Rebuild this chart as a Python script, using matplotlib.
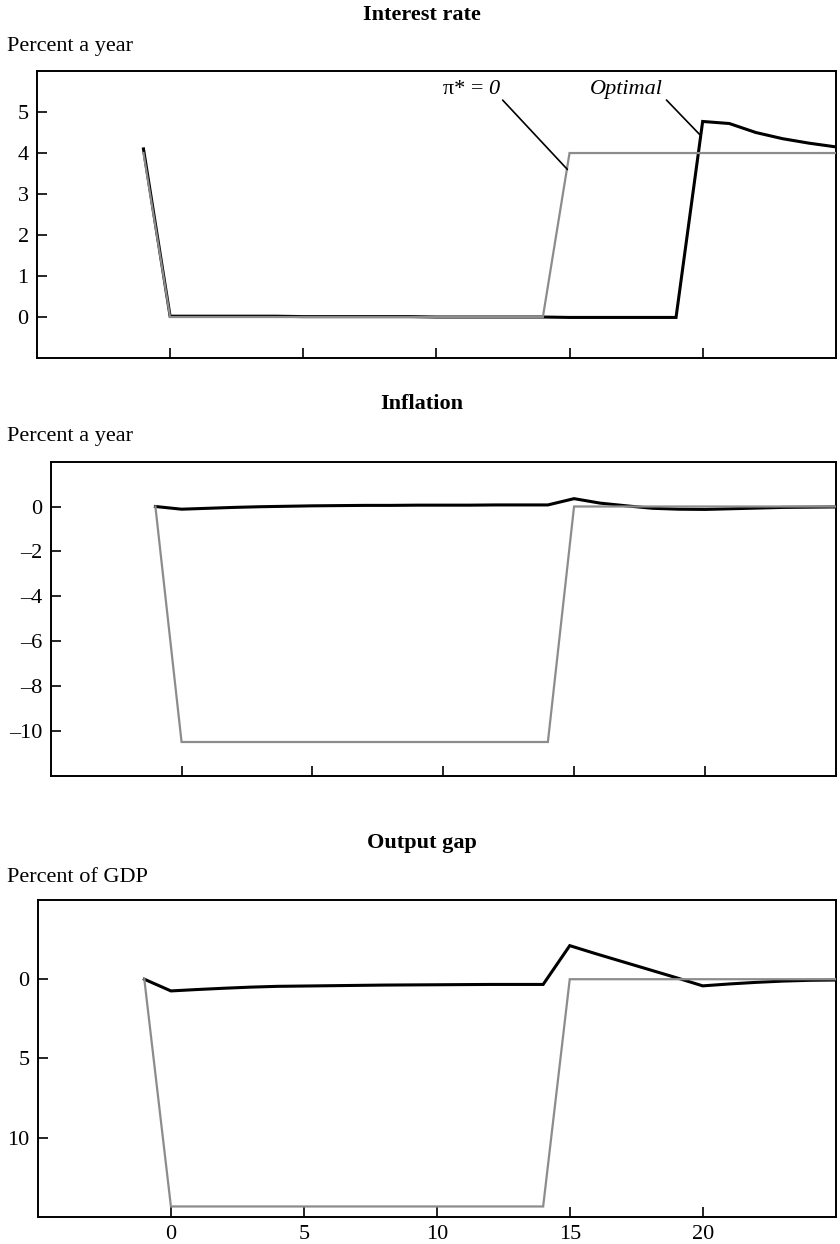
import numpy as np
import matplotlib
matplotlib.use('Agg')
import matplotlib.pyplot as plt

plt.rcParams['font.family'] = ['Liberation Serif', 'DejaVu Serif']

# periods
periods = list(range(-1, 26))

# interest rate, percent a year
rate_zero = [4.0] + [0.0] * 15 + [4.0] * 11
rate_optimal = [4.1] + [0.02] * 5 + [0.01] * 5 + [0.0] * 5 + [-0.01] * 5 + \
    [4.77, 4.72, 4.5, 4.35, 4.24, 4.15]

# inflation, percent a year
infl_zero = [0.0] + [-10.5] * 15 + [0.0] * 11
infl_optimal = [0.0, -0.12, -0.08, -0.04, -0.01, 0.01, 0.03, 0.04, 0.05, 0.05,
                0.06, 0.06, 0.06, 0.07, 0.07, 0.07, 0.35, 0.15, 0.03, -0.08,
                -0.12, -0.13, -0.1, -0.07, -0.04, -0.03, -0.02]

# output gap, percent of GDP
gap_zero = [0.0] + [-14.35] * 15 + [0.0] * 11
gap_optimal = [0.0, -0.74, -0.65, -0.57, -0.5, -0.45, -0.43, -0.41, -0.39, -0.37,
               -0.36, -0.35, -0.34, -0.33, -0.33, -0.33, 2.12, 1.6, 1.1, 0.6,
               0.1, -0.42, -0.3, -0.2, -0.12, -0.07, -0.05]

x_ticks = [0, 5, 10, 15, 20]

fig = plt.figure(figsize=(8.4, 12.44), dpi=100)


def panel(rect, zero, optimal, ylim, yticks, ylabels, title, unit, title_y, unit_y, xlabels=False):
    ax = fig.add_axes(rect)
    ax.plot(periods, optimal, color='black', lw=2.2, solid_joinstyle='miter', zorder=2)
    ax.plot(periods, zero, color='#8c8c8c', lw=1.6, solid_joinstyle='miter', zorder=3)
    ax.set_xlim(-5, 25)
    ax.set_ylim(*ylim)
    ax.set_xticks(x_ticks)
    ax.set_yticks(yticks)
    ax.set_yticklabels(ylabels)
    if not xlabels:
        ax.set_xticklabels([])
    ax.tick_params(direction='in', length=7, width=1.2, labelsize=16, pad=6)
    for s in ax.spines.values():
        s.set_linewidth(1.4)
    fig.text(0.502, title_y, title, ha='center', va='center', fontsize=16, fontweight='bold')
    fig.text(0.008, unit_y, unit, ha='left', va='center', fontsize=16)
    return ax


ax1 = panel([0.044, 0.7122, 0.951, 0.2307], rate_zero, rate_optimal, (-1, 6),
            [0, 1, 2, 3, 4, 5], ['0', '1', '2', '3', '4', '5'],
            'Interest rate', 'Percent a year', 0.988, 0.963)
# pi* = 0 label: upright "pi* =" followed by italic "0"
ax1.annotate('0', xy=(14.92, 3.6), xytext=(12.35, 5.55),
             ha='right', va='center', fontsize=16, style='italic',
             arrowprops=dict(arrowstyle='-', color='black', lw=1.2, shrinkA=1, shrinkB=0,
                             relpos=(1.0, 0.15)))
ax1.annotate('\u03c0* =', xy=(12.35, 5.55), xytext=(-11, 0), textcoords='offset points',
             ha='right', va='center', fontsize=16)
ax1.annotate('Optimal', xy=(19.89, 4.45), xytext=(18.5, 5.55),
             ha='right', va='center', fontsize=16, style='italic',
             arrowprops=dict(arrowstyle='-', color='black', lw=1.2, shrinkA=1, shrinkB=0,
                             relpos=(1.0, 0.15)))

panel([0.0604, 0.3765, 0.9345, 0.2524], infl_zero, infl_optimal, (-12, 2),
      [-10, -8, -6, -4, -2, 0], ['\u201310', '\u20138', '\u20136', '\u20134', '\u20132', '0'],
      'Inflation', 'Percent a year', 0.675, 0.649)

panel([0.0452, 0.0219, 0.9496, 0.2546], gap_zero, gap_optimal, (-15, 5),
      [-10, -5, 0], ['10', '5', '0'],
      'Output gap', 'Percent of GDP', 0.322, 0.295, xlabels=True)

fig.savefig('out.png', dpi=100)
